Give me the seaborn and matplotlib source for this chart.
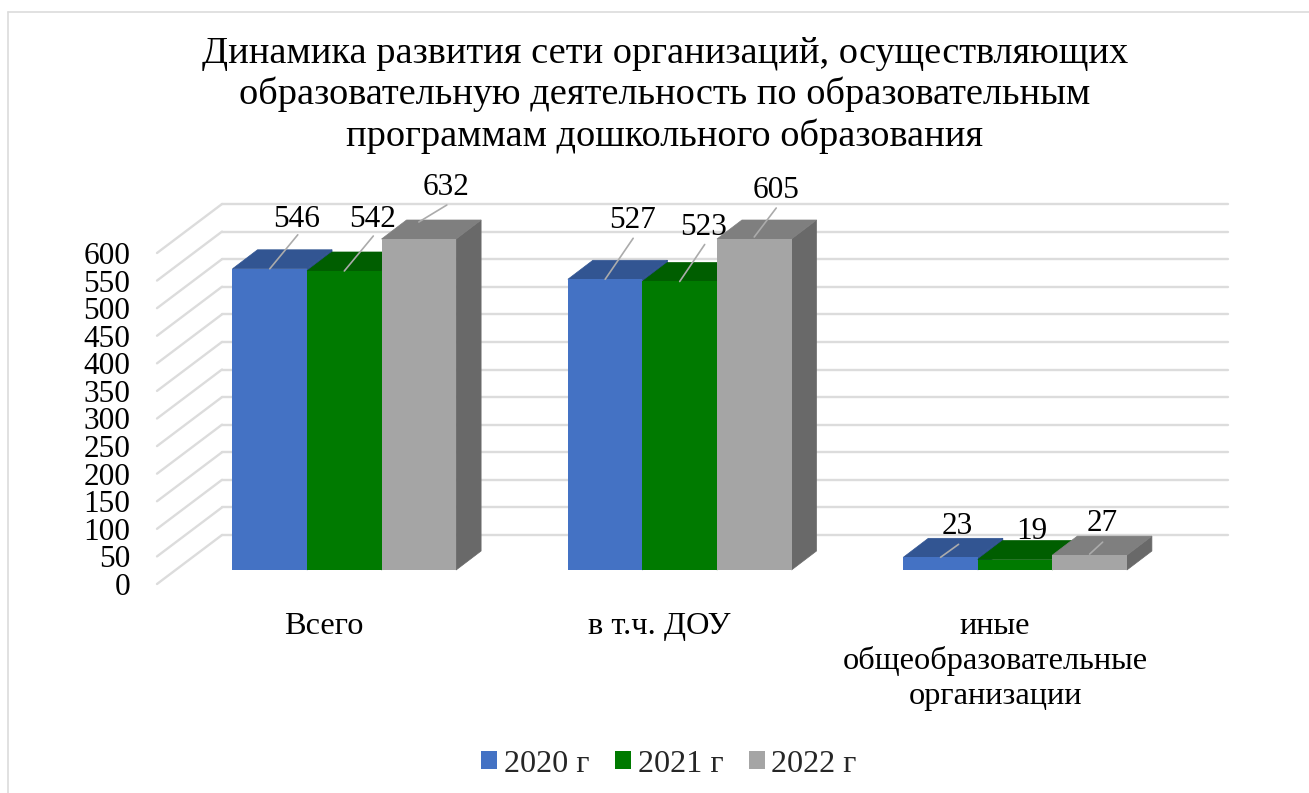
import matplotlib
matplotlib.use("Agg")
import matplotlib.pyplot as plt
from matplotlib.lines import Line2D
from matplotlib.patches import Polygon
from matplotlib.transforms import Affine2D, IdentityTransform, blended_transform_factory
import pandas as pd
import seaborn as sns

# Datos
CATEGORIAS = ["Всего", "в т.ч. ДОУ", "иные\nобщеобразовательные\nорганизации"]
ANIOS = ["2020 г", "2021 г", "2022 г"]
V_2020 = [546, 527, 23]
V_2021 = [542, 523, 19]
V_2022 = [632, 605, 27]
TICKS = list(range(0, 601, 50))

TITULO = ("Динамика развития сети организаций, осуществляющих\n"
          "образовательную деятельность по образовательным\n"
          "программам дошкольного образования")

# Estilo
W, H = 1309, 793
COLORES = ["#4472C4", "#007A00", "#A5A5A5"]
COLORES_TOP = ["#325592", "#005E00", "#7F7F7F"]
COLORES_SIDE = ["#2F5090", "#004F00", "#696969"]
GRID = "#DCDCDC"
LEADER = "#ABABAB"
DX, DY = 25, 19  # profundidad de cada barra en px

# (dx etiqueta, alto etiqueta, dx linea, alto linea inicio, alto linea fin) en px
# por grupo de anio y categoria
ETIQUETAS = [
    [(27, 53, 28, 0, 34), (27, 62, 28, 0, 41), (17, 34, 18, 0, 13)],
    [(28, 55, 29, 0, 35), (24, 57, 25, 0, 37), (17, 32, None, 0, 0)],
    [(27, 55, 28, 17, 34), (22, 52, 22, 2, 31), (13, 35, 13, 1, 13)],
]

sns.set_theme(style="white")
plt.rcParams["font.family"] = ["Liberation Serif", "DejaVu Serif"]

df = pd.DataFrame({
    "categoria": CATEGORIAS * 3,
    "anio": [a for a in ANIOS for _ in CATEGORIAS],
    "valor": V_2020 + V_2021 + V_2022,
})

fig = plt.figure(figsize=(W / 100, H / 100), dpi=100)
ax = fig.add_axes([176.6 / W, 1 - 570 / H, 1006.2 / W, 331 / H])

sns.barplot(data=df, x="categoria", y="valor", hue="anio", palette=COLORES,
            width=2 / 3, gap=0, saturation=1, linewidth=0, ax=ax)
ax.set_xlim(-0.5, 2.5)
ax.set_ylim(0, 600)
ax.set_xlabel("")
ax.set_ylabel("")
for s in ax.spines.values():
    s.set_visible(False)
ax.patch.set_alpha(0)

handles, labels = ax.get_legend_handles_labels()
ax.get_legend().remove()

# Rejilla "3D": pared del fondo y lineas oblicuas del costado
y_atras = blended_transform_factory(IdentityTransform(), ax.transData + Affine2D().translate(0, 35))
y_frente = blended_transform_factory(IdentityTransform(), ax.transData + Affine2D().translate(0, -14))
for t in TICKS:
    ax.plot([222, 1228], [t, t], transform=y_atras, color=GRID, lw=1.7, clip_on=False, zorder=0)
    p0 = y_frente.transform((157, t))
    p1 = y_atras.transform((222, t))
    ax.plot([p0[0], p1[0]], [p0[1], p1[1]], transform=IdentityTransform(),
            color=GRID, lw=1.7, clip_on=False, zorder=0)

# Caras superior y lateral de cada barra
for i, cont in enumerate(ax.containers):
    for j, bar in enumerate(cont):
        valor = int(bar.get_height())
        h = min(valor, 600)
        x0, y0 = ax.transData.transform((bar.get_x(), 0))
        x1, y1 = ax.transData.transform((bar.get_x() + bar.get_width(), h))
        z = 2 + 2 * i
        ax.add_patch(Polygon([(x1, y0), (x1, y1), (x1 + DX, y1 + DY), (x1 + DX, y0 + DY)],
                             closed=True, fc=COLORES_SIDE[i], ec=COLORES_SIDE[i], lw=0.5,
                             transform=IdentityTransform(), clip_on=False, zorder=z))
        ax.add_patch(Polygon([(x0, y1), (x1, y1), (x1 + DX, y1 + DY), (x0 + DX, y1 + DY)],
                             closed=True, fc=COLORES_TOP[i], ec=COLORES_TOP[i], lw=0.5,
                             transform=IdentityTransform(), clip_on=False, zorder=z))
        bar.set_zorder(z + 1)

        # Etiqueta de datos y linea guia
        xc = (x0 + x1) / 2
        lx, ly, gx, g0, g1 = ETIQUETAS[i][j]
        if gx is not None:
            ax.plot([xc, xc + gx], [y1 + g0, y1 + g1], transform=IdentityTransform(),
                    color=LEADER, lw=1.2, clip_on=False, zorder=20)
        ax.text(xc + lx, y1 + ly, str(valor),
                transform=IdentityTransform(), ha="center", va="center_baseline",
                fontsize=22.5, color="black", zorder=21)

# Ejes
ax.set_yticks(TICKS)
ax.tick_params(axis="y", length=0, pad=33.5, labelsize=22.5, labelcolor="black")
for lab in ax.get_yticklabels():
    lab.set_transform(lab.get_transform() + Affine2D().translate(0, -14))

ax.set_xticks(range(len(CATEGORIAS)))
ax.set_xticklabels(CATEGORIAS, linespacing=1.25)
ax.tick_params(axis="x", length=0, pad=30, labelsize=23.3, labelcolor="black")
for lab in ax.get_xticklabels():
    lab.set_transform(lab.get_transform() + Affine2D().translate(-20, 0))

# Titulo
fig.text(665 / W, 1 - 95 / H, TITULO, ha="center", va="center", fontsize=27.6,
         linespacing=1.22, color="black")

# Leyenda
fig.legend(handles, labels, loc="center", bbox_to_anchor=(669 / W, 1 - 764 / H), ncol=3,
           frameon=False, fontsize=23.2, handlelength=0.5, handleheight=0.5,
           handletextpad=0.2, columnspacing=0.8)

# Borde del grafico
fig.add_artist(Line2D([8 / W, 1], [1 - 12 / H, 1 - 12 / H], color=GRID, lw=1.2))
fig.add_artist(Line2D([8 / W, 8 / W], [0, 1 - 12 / H], color=GRID, lw=1.2))

fig.savefig("out.png", dpi=100)
